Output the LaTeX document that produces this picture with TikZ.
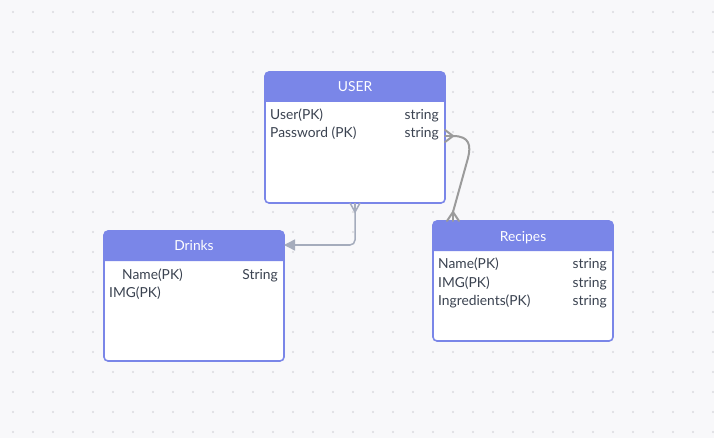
\documentclass[tikz,border=0pt]{standalone}
\usepackage{fontspec}
\setmainfont{Lato}
\usetikzlibrary{positioning,arrows.meta}

\definecolor{headblue}{HTML}{7A86E8}
\definecolor{fieldtext}{HTML}{3A4250}
\definecolor{canvas}{HTML}{F8F8FA}
\definecolor{griddot}{HTML}{DADADF}
\definecolor{linkblue}{HTML}{A5ACBC}
\definecolor{linkgray}{HTML}{9B9B9B}

\begin{document}
\begin{tikzpicture}[x=1pt,y=-1pt,
    entity/.style={
        draw=headblue,
        line width=1.6pt,
        fill=white,
        rounded corners=4pt,
        minimum width=180pt,
        inner sep=0pt,
        outer sep=0pt
        },
    title/.style={
        text=white,
        font=\fontsize{13.8}{16}\selectfont,
        inner sep=0pt,
        anchor=base
        },
    fieldname/.style={
        text=fieldtext,
        font=\fontsize{13.8}{16}\selectfont,
        inner sep=0pt,
        anchor=base west
        },
    fieldtype/.style={
        fieldname,
        anchor=base east
        },
    link/.style={linkblue, line width=1.5pt},
    linktwo/.style={linkgray, line width=2pt, line cap=round}
]

\useasboundingbox (0,0) rectangle (714,438);
\fill[canvas] (0,0) rectangle (714,438);
\foreach \gx in {13,33,...,713}
    \foreach \gy in {12,32,...,432}
        \fill[griddot] (\gx,\gy) circle (1.2pt);

% entities
\node[entity, minimum height=131pt] (user) at (355,137.5) {};
\node[entity, minimum height=130pt] (drinks) at (194,296) {};
\node[entity, minimum height=120pt] (recipes) at (523,281) {};

\foreach \ent in {user,drinks,recipes}{
    \fill[headblue] ([yshift=-30pt]\ent.north west) [rounded corners=4pt] -- (\ent.north west)
        -- (\ent.north east) [sharp corners] -- ([yshift=-30pt]\ent.north east) -- cycle;
}

\node[title] (user-title) at ([yshift=-20pt]user.north) {USER};
\node[fieldname] (user-n1) at ([xshift=5pt,yshift=-48pt]user.north west) {User(PK)};
\node[fieldname] (user-n2) at ([xshift=5pt,yshift=-66pt]user.north west) {Password (PK)};
\node[fieldtype] (user-t1) at ([xshift=-6pt,yshift=-48pt]user.north east) {string};
\node[fieldtype] (user-t2) at ([xshift=-6pt,yshift=-66pt]user.north east) {string};

\node[title] (drinks-title) at ([yshift=-20pt]drinks.north) {Drinks};
\node[fieldname] (drinks-n1) at ([xshift=18pt,yshift=-48pt]drinks.north west) {Name(PK)};
\node[fieldname] (drinks-n2) at ([xshift=5pt,yshift=-66pt]drinks.north west) {IMG(PK)};
\node[fieldtype] (drinks-t1) at ([xshift=-6pt,yshift=-48pt]drinks.north east) {String};

\node[title] (recipes-title) at ([yshift=-20pt]recipes.north) {Recipes};
\node[fieldname] (recipes-n1) at ([xshift=5pt,yshift=-48pt]recipes.north west) {Name(PK)};
\node[fieldname] (recipes-n2) at ([xshift=5pt,yshift=-66pt]recipes.north west) {IMG(PK)};
\node[fieldname] (recipes-n3) at ([xshift=5pt,yshift=-84pt]recipes.north west) {Ingredients(PK)};
\node[fieldtype] (recipes-t1) at ([xshift=-6pt,yshift=-48pt]recipes.north east) {string};
\node[fieldtype] (recipes-t2) at ([xshift=-6pt,yshift=-66pt]recipes.north east) {string};
\node[fieldtype] (recipes-t3) at ([xshift=-6pt,yshift=-84pt]recipes.north east) {string};

% user -- drinks
\coordinate (user-foot) at ([yshift=-9pt]user.south);
\coordinate (drinks-in) at ([yshift=-14pt]drinks.north east);
\draw[link] ([xshift=-5pt]user.south) -- (user-foot) -- ([xshift=5pt]user.south);
\draw[link] (user.south) -- (user-foot);
\draw[link, rounded corners=5pt, -{Triangle[length=11pt,width=11pt]}] (user-foot) |- (drinks-in);

% user -- recipes
\coordinate (pw-foot) at ([xshift=8pt,yshift=-64pt]user.north east);
\coordinate (pw-bend) at (468,158);
\coordinate (rc-foot) at ([xshift=20pt,yshift=9pt]recipes.north west);
\draw[linktwo] ([yshift=6pt]pw-foot -| user.east) -- (pw-foot) -- ([yshift=-6pt]pw-foot -| user.east);
\draw[linktwo] (pw-foot -| user.east) -- (pw-foot);
\draw[linktwo] (pw-foot) .. controls (470,136) and (471,146) .. (pw-bend) -- (rc-foot);
\draw[linktwo] ([xshift=-6pt]rc-foot |- recipes.north) -- (rc-foot) -- ([xshift=6pt]rc-foot |- recipes.north);
\draw[linktwo] (rc-foot |- recipes.north) -- (rc-foot);

\end{tikzpicture}
\end{document}
